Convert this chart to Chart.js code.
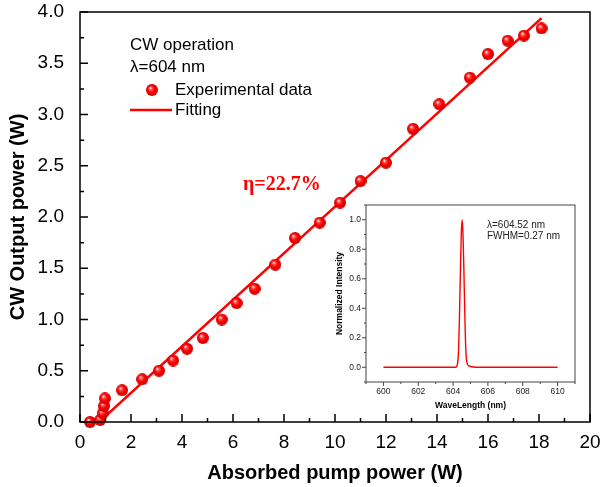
<!DOCTYPE html>
<html>
<head>
<meta charset="utf-8">
<script src="https://cdn.jsdelivr.net/npm/chart.js@4"></script>
<style>
  html, body { margin: 0; padding: 0; background: #fff; }
  #wrap { position: relative; width: 602px; height: 487px; }
  #main { position: absolute; left: 0; top: 0; }
  #inset { position: absolute; left: 316px; top: 195px; }
</style>
</head>
<body>
<div id="wrap">
  <canvas id="main" width="602" height="487"></canvas>
  <canvas id="inset" width="265" height="225"></canvas>
</div>
<script>
// ---- data ----
const pumpPower = [0.39, 0.79, 0.89, 0.94, 0.98, 1.65, 2.44, 3.10, 3.65, 4.20, 4.82, 5.56, 6.14, 6.85,
  7.66, 8.43, 9.40, 10.20, 11.00, 12.00, 13.06, 14.09, 15.29, 16.00, 16.77, 17.41, 18.10];
const outputPower = [0.00, 0.02, 0.085, 0.156, 0.23, 0.31, 0.417, 0.50, 0.60, 0.715, 0.82, 1.00, 1.16, 1.30,
  1.535, 1.795, 1.945, 2.14, 2.35, 2.53, 2.86, 3.10, 3.36, 3.59, 3.72, 3.77, 3.84];
const fitPump = [0.75, 18.1];
const fitOutput = [0.0, 3.94];
const xTicks = [0, 2, 4, 6, 8, 10, 12, 14, 16, 18, 20];
const yTicks = [0, 0.5, 1.0, 1.5, 2.0, 2.5, 3.0, 3.5, 4.0];

// inset spectrum
const wavelength = [600.0, 603.0, 604.15, 604.25, 604.32, 604.38, 604.43, 604.47, 604.52,
  604.57, 604.62, 604.67, 604.73, 604.8, 604.9, 605.5, 610.0];
const intensity = [0.0, 0.0, 0.0, 0.02, 0.13, 0.42, 0.7, 0.9, 1.0,
  0.9, 0.66, 0.38, 0.12, 0.03, 0.01, 0.0, 0.0];
const insetXTicks = [600, 602, 604, 606, 608, 610];
const insetYTicks = [0, 0.2, 0.4, 0.6, 0.8, 1.0];

const FONT = '"Liberation Sans", Arial, sans-serif';

// red shaded ball used as point marker
function makeBall(r) {
  const c = document.createElement('canvas');
  c.width = c.height = r * 2;
  const g = c.getContext('2d');
  const grad = g.createRadialGradient(r * 0.7, r * 0.65, 0.3, r, r, r);
  grad.addColorStop(0, '#ffffff');
  grad.addColorStop(0.22, '#ff5050');
  grad.addColorStop(0.55, '#ff0000');
  grad.addColorStop(1, '#c80000');
  g.fillStyle = grad;
  g.beginPath();
  g.arc(r, r, r, 0, Math.PI * 2);
  g.fill();
  return c;
}
const ball = makeBall(6);

// box frame + major/minor ticks on bottom and left
const frameTicks = {
  id: 'frameTicks',
  afterDraw(chart, args, o) {
    const { ctx, chartArea: a, scales: { x, y } } = chart;
    const dir = o.out ? 1 : -1;
    ctx.save();
    ctx.strokeStyle = o.color;
    ctx.lineWidth = o.width;
    ctx.strokeRect(a.left, a.top, a.right - a.left, a.bottom - a.top);
    ctx.beginPath();
    const isMajor = (list, v) => list.some(t => Math.abs(t - v) < 1e-6);
    let n = Math.round((x.max - x.min) / o.xStep);
    for (let i = 0; i <= n; i++) {
      const v = x.min + i * o.xStep;
      const px = x.getPixelForValue(v);
      const len = isMajor(o.xMajor, v) ? o.major : o.minor;
      ctx.moveTo(px, a.bottom);
      ctx.lineTo(px, a.bottom + dir * len);
    }
    n = Math.round((y.max - y.min) / o.yStep);
    for (let i = 0; i <= n; i++) {
      const v = y.min + i * o.yStep;
      const py = y.getPixelForValue(v);
      const len = isMajor(o.yMajor, v) ? o.major : o.minor;
      ctx.moveTo(a.left, py);
      ctx.lineTo(a.left - dir * len, py);
    }
    ctx.stroke();
    ctx.restore();
  }
};

// texts inside the main plot
const mainNotes = {
  id: 'mainNotes',
  afterDraw(chart) {
    const ctx = chart.ctx;
    ctx.save();
    ctx.fillStyle = '#000';
    ctx.font = '17px ' + FONT;
    ctx.textBaseline = 'middle';
    ctx.fillText('CW operation', 130, 45);
    ctx.fillText('\u03bb=604 nm', 130, 67);
    ctx.drawImage(ball, 152 - 6, 90 - 6);
    ctx.fillText('Experimental data', 175, 90);
    ctx.strokeStyle = '#ff0000';
    ctx.lineWidth = 2.5;
    ctx.beginPath();
    ctx.moveTo(130, 110);
    ctx.lineTo(172, 110);
    ctx.stroke();
    ctx.fillText('Fitting', 175, 110);
    ctx.fillStyle = '#ff0000';
    ctx.font = 'bold 20px "Liberation Serif", "Times New Roman", serif';
    ctx.fillText('\u03b7=22.7%', 243, 185);
    ctx.restore();
  }
};

const insetNotes = {
  id: 'insetNotes',
  afterDraw(chart) {
    const ctx = chart.ctx;
    ctx.save();
    ctx.fillStyle = '#222';
    ctx.font = '10px ' + FONT;
    ctx.textBaseline = 'middle';
    ctx.fillText('\u03bb=604.52 nm', 171, 30);
    ctx.fillText('FWHM=0.27 nm', 171, 41);
    ctx.restore();
  }
};

// fixed axis boxes so the plot area lands where the figure has it
function fixX(h) {
  return s => { s.height = h; s.paddingLeft = 0; s.paddingRight = 0; };
}
function fixY(w) {
  return s => { s.width = w; s.paddingTop = 0; s.paddingBottom = 0; };
}

new Chart(document.getElementById('main'), {
  type: 'scatter',
  data: {
    datasets: [
      {
        label: 'Experimental data',
        data: pumpPower.map((p, i) => ({ x: p, y: outputPower[i] })),
        pointStyle: ball,
        pointRadius: 6,
        clip: false,
        order: 0
      },
      {
        label: 'Fitting',
        data: fitPump.map((p, i) => ({ x: p, y: fitOutput[i] })),
        showLine: true,
        borderColor: '#ff0000',
        borderWidth: 2.5,
        pointRadius: 0,
        order: 1
      }
    ]
  },
  options: {
    responsive: false,
    animation: false,
    devicePixelRatio: 1,
    layout: { padding: { top: 12, right: 12, left: 0, bottom: 0 } },
    plugins: {
      legend: { display: false },
      tooltip: { enabled: false },
      frameTicks: { color: '#000', width: 1.5, out: false, major: 8, minor: 4,
        xStep: 1, yStep: 0.25, xMajor: xTicks, yMajor: yTicks }
    },
    scales: {
      x: {
        type: 'linear', min: 0, max: 20,
        afterBuildTicks: s => { s.ticks = xTicks.map(v => ({ value: v })); },
        afterFit: fixX(65),
        grid: { display: false, drawTicks: false },
        border: { display: false },
        ticks: { color: '#000', font: { family: FONT, size: 19 }, padding: 9,
          maxRotation: 0, autoSkip: false, callback: v => String(v) },
        title: { display: true, text: 'Absorbed pump power (W)', color: '#000',
          font: { family: FONT, size: 20, weight: 'bold' }, padding: { top: 0, bottom: 2 } }
      },
      y: {
        type: 'linear', min: 0, max: 4,
        afterBuildTicks: s => { s.ticks = yTicks.map(v => ({ value: v })); },
        afterFit: fixY(80),
        grid: { display: false, drawTicks: false },
        border: { display: false },
        ticks: { color: '#000', font: { family: FONT, size: 19 }, padding: 16,
          autoSkip: false, callback: v => v.toFixed(1) },
        title: { display: true, text: 'CW Output power (W)', color: '#000',
          font: { family: FONT, size: 20, weight: 'bold' }, padding: { top: 6, bottom: 0 } }
      }
    }
  },
  plugins: [frameTicks, mainNotes]
});

new Chart(document.getElementById('inset'), {
  type: 'line',
  data: {
    datasets: [{
      data: wavelength.map((w, i) => ({ x: w, y: intensity[i] })),
      borderColor: '#ff0000',
      borderWidth: 1.4,
      pointRadius: 0,
      cubicInterpolationMode: 'monotone'
    }]
  },
  options: {
    responsive: false,
    animation: false,
    devicePixelRatio: 1,
    layout: { padding: { top: 10, right: 6, left: 0, bottom: 0 } },
    plugins: {
      legend: { display: false },
      tooltip: { enabled: false },
      frameTicks: { color: '#444', width: 1, out: true, major: 4, minor: 2,
        xStep: 1, yStep: 0.1, xMajor: insetXTicks, yMajor: insetYTicks }
    },
    scales: {
      x: {
        type: 'linear', min: 599, max: 611,
        afterBuildTicks: s => { s.ticks = insetXTicks.map(v => ({ value: v })); },
        afterFit: fixX(38),
        grid: { display: false, drawTicks: false },
        border: { display: false },
        ticks: { color: '#222', font: { family: FONT, size: 8.5 }, padding: 5,
          maxRotation: 0, autoSkip: false, callback: v => String(v) },
        title: { display: true, text: 'WaveLength (nm)', color: '#000',
          font: { family: FONT, size: 8.5, weight: 'bold' }, padding: { top: 0, bottom: 9 } }
      },
      y: {
        type: 'linear', min: -0.1, max: 1.1,
        afterBuildTicks: s => { s.ticks = insetYTicks.map(v => ({ value: v })); },
        afterFit: fixY(50),
        grid: { display: false, drawTicks: false },
        border: { display: false },
        ticks: { color: '#222', font: { family: FONT, size: 8.5 }, padding: 5,
          autoSkip: false, callback: v => v.toFixed(1) },
        title: { display: true, text: 'Normalized Intensity', color: '#000',
          font: { family: FONT, size: 8.5, weight: 'bold' }, padding: { top: 19, bottom: 0 } }
      }
    }
  },
  plugins: [frameTicks, insetNotes]
});
</script>
</body>
</html>
